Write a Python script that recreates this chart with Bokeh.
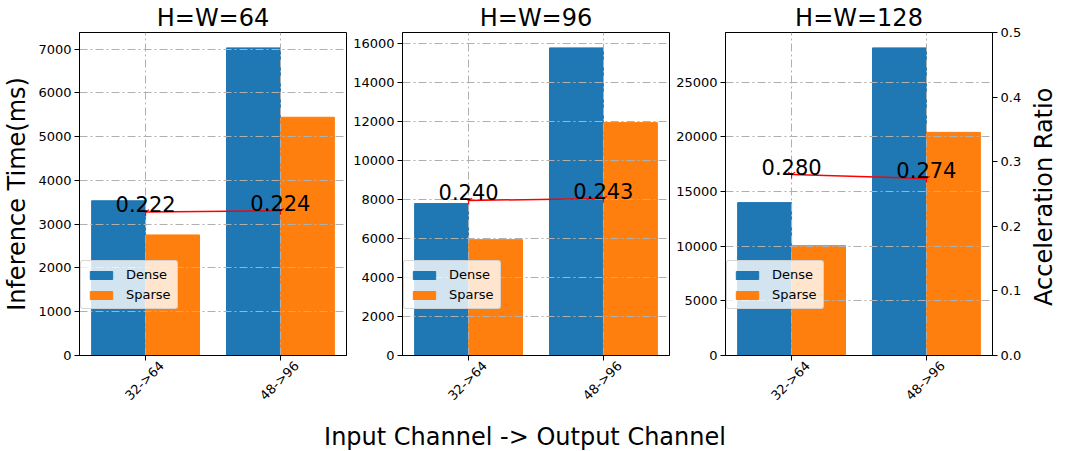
from bokeh.plotting import figure
from bokeh.layouts import row, column
from bokeh.models import (Range1d, LinearAxis, SingleIntervalTicker, FixedTicker,
                          Legend, LegendItem, Div, NumeralTickFormatter, ColumnDataSource)
from bokeh.embed import file_html
from bokeh.resources import INLINE
from bokeh.core.properties import value
from math import pi

categories = ["32->64", "48->96"]
titles = ["H=W=64", "H=W=96", "H=W=128"]

dense_64 = [3536, 7030]
sparse_64 = [2755, 5445]
ratio_64 = [0.222, 0.224]

dense_96 = [7800, 15790]
sparse_96 = [5946, 11955]
ratio_96 = [0.240, 0.243]

dense_128 = [13990, 28150]
sparse_128 = [10055, 20420]
ratio_128 = [0.280, 0.274]

y_intervals = [1000, 2000, 5000]
ratio_ticks = [0.0, 0.1, 0.2, 0.3, 0.4, 0.5]

FONT = "DejaVu Sans"
BLUE = "#1f77b4"
ORANGE = "#ff7f0e"
LABEL_SHIFT = 0.12   # horizontal shift so rotated labels are centred under the ticks
FRAME_W = 267
FRAME_H = 323
TOP = 30
BOTTOM = 56


def style_axis(ax):
    ax.major_label_text_font = FONT
    ax.major_label_text_font_size = "13px"
    ax.major_label_text_color = "black"
    ax.major_tick_out = 5
    ax.major_tick_in = 0
    ax.major_tick_line_color = "black"
    ax.minor_tick_line_color = None
    ax.major_label_standoff = 3
    ax.axis_line_color = "black"
    ax.axis_label_text_font = FONT
    ax.axis_label_text_font_size = "24px"
    ax.axis_label_text_font_style = "normal"
    ax.axis_label_text_color = "black"
    ax.axis_label_standoff = 4


def make_panel(title, dense, sparse, ratio, interval, lb, rb, ylabel=None, right_axis=False):
    p = figure(frame_width=FRAME_W, frame_height=FRAME_H,
               min_border_left=lb, min_border_right=rb, min_border_top=TOP, min_border_bottom=BOTTOM,
               x_range=Range1d(-0.49, 1.49), y_range=Range1d(0, max(dense) * 1.05),
               output_backend="svg", toolbar_location=None, title=title)
    p.extra_y_ranges = {"ratio": Range1d(0, 0.5)}
    p.background_fill_color = "white"
    p.border_fill_color = "white"
    p.outline_line_color = "black"
    p.outline_line_width = 1
    p.outline_line_alpha = 1

    xs = list(range(len(categories)))
    src = ColumnDataSource(dict(
        x=xs,
        xd=[x - 0.2 for x in xs],
        xsp=[x + 0.2 for x in xs],
        dense=dense, sparse=sparse, ratio=ratio,
        label=["%.3f" % r for r in ratio],
    ))
    r1 = p.vbar(x="xd", top="dense", width=0.4, color=BLUE, source=src, level="image")
    r2 = p.vbar(x="xsp", top="sparse", width=0.4, color=ORANGE, source=src, level="image")
    p.line(x="x", y="ratio", y_range_name="ratio", line_color="red", line_width=1.5, source=src)
    p.scatter(x="x", y="ratio", marker="y", size=8, line_color="red", line_width=1.2,
              y_range_name="ratio", source=src)
    p.text(x="x", y="ratio", text="label", y_range_name="ratio", text_align="center",
           text_baseline="bottom", text_font=value(FONT), text_font_size="21px",
           text_color="black", source=src)

    # title
    p.title.text_font = FONT
    p.title.text_font_size = "24px"
    p.title.text_font_style = "normal"
    p.title.text_color = "black"
    p.title.align = "center"
    p.title.standoff = 2

    # axes
    p.xaxis.ticker = FixedTicker(ticks=xs)
    p.xaxis.major_label_overrides = {i: "" for i in xs}
    p.yaxis.ticker = SingleIntervalTicker(interval=interval, num_minor_ticks=0)
    for ax in p.axis:
        style_axis(ax)
    p.xaxis.major_label_text_font_size = "1px"
    p.xaxis.major_label_text_color = None
    p.xaxis.major_label_standoff = 0
    if ylabel:
        p.yaxis.axis_label = ylabel

    # rotated category labels (second, label-only axis)
    lab_ticks = [x + LABEL_SHIFT for x in xs]
    lab_ax = LinearAxis(ticker=FixedTicker(ticks=lab_ticks),
                        major_label_overrides={t: c for t, c in zip(lab_ticks, categories)})
    style_axis(lab_ax)
    lab_ax.major_tick_out = 0
    lab_ax.major_tick_line_color = None
    lab_ax.axis_line_color = None
    lab_ax.major_label_orientation = pi / 4
    lab_ax.major_label_standoff = 3
    p.add_layout(lab_ax, "below")

    if right_axis:
        ax = LinearAxis(y_range_name="ratio",
                        ticker=FixedTicker(ticks=ratio_ticks),
                        formatter=NumeralTickFormatter(format="0.0"))
        style_axis(ax)
        p.add_layout(ax, "right")

    # grid (above bars, below line)
    p.grid.grid_line_color = "#b0b0b0"
    p.grid.grid_line_width = 1
    p.grid.grid_line_dash = "8 3 2 3"
    p.xgrid.ticker = FixedTicker(ticks=xs)
    p.ygrid.ticker = SingleIntervalTicker(interval=interval, num_minor_ticks=0)

    legend = Legend(items=[LegendItem(label="Dense", renderers=[r1]),
                           LegendItem(label="Sparse", renderers=[r2])],
                    location=(1, 46))
    legend.background_fill_color = "white"
    legend.background_fill_alpha = 0.8
    legend.border_line_color = "#cccccc"
    legend.border_line_alpha = 0.8
    legend.border_radius = 3
    legend.glyph_width = 28
    legend.glyph_height = 10
    legend.label_height = 15
    legend.spacing = 5
    legend.padding = 6
    legend.margin = 0
    legend.label_standoff = 11
    legend.label_text_font = FONT
    legend.label_text_font_size = "13px"
    legend.label_text_color = "black"
    p.add_layout(legend)
    return p


p1 = make_panel(titles[0], dense_64, sparse_64, ratio_64, y_intervals[0], 73, 4,
                ylabel="Inference Time(ms)")
p2 = make_panel(titles[1], dense_96, sparse_96, ratio_96, y_intervals[1], 52, 4)
p3 = make_panel(titles[2], dense_128, sparse_128, ratio_128, y_intervals[2], 51, 33,
                right_axis=True)

right_label = Div(
    text=('<div style="writing-mode:vertical-rl;transform:rotate(180deg);'
          'height:%dpx;margin-top:%dpx;text-align:center;font-family:\'DejaVu Sans\';'
          'font-size:24px;line-height:28px;color:black;white-space:nowrap;">Acceleration Ratio</div>'
          % (FRAME_H, TOP)),
    width=30, height=TOP + FRAME_H + BOTTOM)

xlabel = Div(text='<div style="width:1040px;text-align:center;font-family:\'DejaVu Sans\';'
                  'font-size:24px;line-height:26px;color:black;">Input Channel -&gt; Output Channel</div>',
             width=1040, height=26,
             styles={"text-align": "center", "width": "1040px"})

layout = column(row(p1, p2, p3, right_label, spacing=0), xlabel, spacing=0)

open("out.html", "w").write(file_html(layout, INLINE))
